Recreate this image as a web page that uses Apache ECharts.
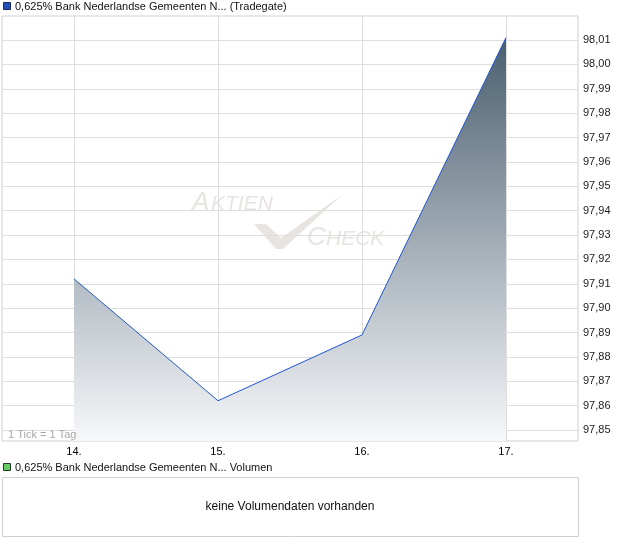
<!DOCTYPE html>
<html>
<head>
<meta charset="utf-8">
<script src="https://cdn.jsdelivr.net/npm/echarts@6/dist/echarts.min.js"></script>
<style>
html,body{margin:0;padding:0;background:#fff;}
#chart{width:620px;height:546px;}
</style>
</head>
<body>
<div id="chart"></div>
<script>
var categories = ['14.', '15.', '16.', '17.'];
var prices = [97.912, 97.862, 97.889, 98.011];
var priceTitle = '0,625% Bank Nederlandse Gemeenten N... (Tradegate)';
var volumeTitle = '0,625% Bank Nederlandse Gemeenten N... Volumen';
var noVolumeText = 'keine Volumendaten vorhanden';
var tickNote = '1 Tick = 1 Tag';
var yTickMin = 97.85, yTickMax = 98.01, yTickStep = 0.01;

var FONT = '"Liberation Sans", Arial, sans-serif';
var pxPerUnit = 390 / (yTickMax - yTickMin);
var dataMin = yTickMin - 11 / pxPerUnit;
var dataMax = yTickMax + 24 / pxPerUnit;
var WM = '#e8e4e0';

var chart = echarts.init(document.getElementById('chart'));
chart.setOption({
  animation: false,
  backgroundColor: '#fff',
  grid: [
    {left: 2, right: 42, top: 16, bottom: 105, show: true, borderColor: '#d0d0d0', borderWidth: 1, backgroundColor: 'transparent', z: 0},
    {left: 74, right: 114, top: 16, bottom: 105},
    {left: 2, right: 42, top: 40, bottom: 116}
  ],
  xAxis: [
    {gridIndex: 0, type: 'value', show: false, min: 0, max: 1},
    {gridIndex: 1, type: 'category', data: categories, boundaryGap: false,
      axisLine: {show: false}, axisTick: {show: false},
      axisLabel: {color: '#000', fontSize: 11, fontFamily: FONT, margin: 5},
      splitLine: {show: true, lineStyle: {color: '#dedede', width: 1}}},
    {gridIndex: 2, type: 'value', show: false, min: 0, max: 1}
  ],
  yAxis: [
    {gridIndex: 0, type: 'value', show: false, min: 0, max: 1},
    {gridIndex: 1, type: 'value', show: false, min: dataMin, max: dataMax},
    {gridIndex: 2, type: 'value', position: 'right', min: yTickMin, max: yTickMax, interval: yTickStep,
      axisLine: {show: false}, axisTick: {show: false},
      axisLabel: {color: '#222', fontSize: 11, fontFamily: FONT, margin: 5,
        formatter: function (v) { return v.toFixed(2).replace('.', ','); }},
      splitLine: {show: true, lineStyle: {color: '#dedede', width: 1}}}
  ],
  series: [{
    type: 'line',
    xAxisIndex: 1, yAxisIndex: 1,
    data: prices,
    symbol: 'none',
    z: 3,
    lineStyle: {color: '#1f55d0', width: 1},
    areaStyle: {
      origin: 'start',
      opacity: 1,
      color: new echarts.graphic.LinearGradient(0, 0, 0, 1, [
        {offset: 0, color: '#4a5f6f'},
        {offset: 1, color: '#f7f8fa'}
      ])
    }
  }],
  graphic: [
    {type: 'rect', shape: {x: 3.5, y: 2.5, width: 7, height: 7}, style: {fill: '#2050b8', stroke: '#1a2a55', lineWidth: 1}},
    {type: 'text', left: 15, top: 1, style: {text: priceTitle, fill: '#111', font: '11px ' + FONT}},
    {type: 'text', left: 8, top: 429, z: 10, style: {text: tickNote, fill: '#a8a8a8', font: '11px ' + FONT}},
    {type: 'rect', shape: {x: 3.5, y: 463.5, width: 7, height: 7}, style: {fill: '#66cc66', stroke: '#1f3a1f', lineWidth: 1}},
    {type: 'text', left: 15, top: 462, style: {text: volumeTitle, fill: '#111', font: '11px ' + FONT}},
    {type: 'rect', shape: {x: 2.5, y: 477.5, width: 576, height: 59}, style: {fill: '#fff', stroke: '#d0d0d0', lineWidth: 1}},
    {type: 'text', x: 290, y: 507, style: {text: noVolumeText, fill: '#111', font: '12px ' + FONT, align: 'center', verticalAlign: 'middle'}},
    // watermark
    {type: 'group', z: 1, children: [
      {type: 'text', x: 192, y: 216, style: {text: 'A', fill: WM, font: 'italic 26px ' + FONT, verticalAlign: 'bottom'}},
      {type: 'text', x: 211, y: 215, style: {text: 'KTIEN', fill: WM, font: 'italic 21px ' + FONT, verticalAlign: 'bottom'}},
      {type: 'text', x: 307, y: 251, style: {text: 'C', fill: WM, font: 'italic 26px ' + FONT, verticalAlign: 'bottom'}},
      {type: 'text', x: 326, y: 250, style: {text: 'HECK', fill: WM, font: 'italic 21px ' + FONT, verticalAlign: 'bottom'}},
      {type: 'polygon', shape: {points: [[254, 224], [266, 224], [281, 238], [342, 195], [283, 249], [276, 249]]}, style: {fill: WM}}
    ]}
  ]
});
</script>
</body>
</html>
